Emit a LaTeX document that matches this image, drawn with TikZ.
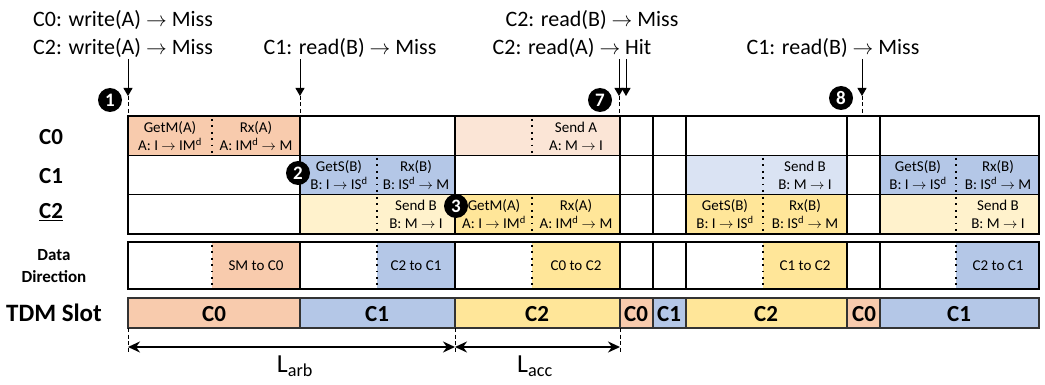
\documentclass[tikz,border=0pt]{standalone}
\usepackage{fontspec}
\setmainfont{Carlito}
\usetikzlibrary{arrows.meta, positioning}

\definecolor{czero}{HTML}{F8CBAD}
\definecolor{czerolt}{HTML}{FBE5D6}
\definecolor{cone}{HTML}{B4C7E7}
\definecolor{conelt}{HTML}{DAE3F3}
\definecolor{ctwo}{HTML}{FFE699}
\definecolor{ctwolt}{HTML}{FFF2CC}

\newcommand{\toarr}{\(\rightarrow\)}

\begin{document}
\begin{tikzpicture}[
    x=1pt, y=-1pt,
    grid/.style={line width=1.6pt},
    tdmgrid/.style={line width=1.3pt, black!80},
    sep/.style={line width=1.6pt, dash pattern=on 1.8pt off 4.6pt},
    evarrow/.style={-{Triangle[length=8pt,width=9pt]}, line width=1pt},
    guide/.style={line width=1pt, dash pattern=on 4pt off 2.5pt},
    span/.style={{Stealth[length=12pt,width=11pt]}-{Stealth[length=12pt,width=11pt]}, line width=2pt},
    marker/.style={circle, fill=black, text=white, inner sep=0pt, minimum size=24pt,
        font=\bfseries\fontsize{19}{19}\selectfont},
    ann/.style={font=\fontsize{22}{24}\selectfont, inner sep=1pt},
    cell/.style={font=\fontsize{15}{18}\selectfont, align=center, inner sep=0pt},
    dir/.style={font=\fontsize{15}{18}\selectfont, inner sep=0pt},
    slot/.style={font=\bfseries\fontsize{23}{24}\selectfont, inner sep=0pt},
    rowlabel/.style={font=\bfseries\fontsize{23}{24}\selectfont, align=center}
]
\useasboundingbox (0,0) rectangle (1045,385);

% Coloured cells
\foreach \xa/\ya/\xb/\yb/\col in {
    128/116/300/155.5/czero, 455/116/620/155.5/czerolt,
    300/155.5/455/194.5/cone, 686/155.5/847/194.5/conelt, 880/155.5/1039/194.5/cone,
    300/194.5/455/234/ctwolt, 455/194.5/620/234/ctwo, 686/194.5/847/234/ctwo, 880/194.5/1039/234/ctwolt,
    212/242/300/289/czero, 377/242/455/289/cone, 532/242/620/289/ctwo,
    763/242/847/289/ctwo, 956/242/1039/289/cone,
    128/298/300/328/czero, 300/298/455/328/cone, 455/298/620/328/ctwo, 620/298/653/328/czero,
    653/298/686/328/cone, 686/298/847/328/ctwo, 847/298/880/328/czero, 880/298/1039/328/cone}
    { \fill[\col] (\xa,\ya) rectangle (\xb,\yb); }

% Core rows and data direction
\draw[grid] (128,116) rectangle (1039,234);
\draw[grid] (128,155.5) -- (1039,155.5);
\draw[grid] (128,194.5) -- (1039,194.5);
\draw[grid] (128,242) rectangle (1039,289);
\foreach \x in {300,455,620,653,686,847,880} {
    \draw[grid] (\x,116) -- (\x,234);
    \draw[grid] (\x,242) -- (\x,289);
}

% TDM slots
\draw[tdmgrid] (128,298) rectangle (1039,328);
\foreach \x in {300,455,620,653,686,847,880}
    \draw[tdmgrid] (\x,298) -- (\x,328);

% Dotted splits inside cells
\foreach \x/\ya/\yb in {
    212/119/154, 532/119/154,
    377/158/193, 763/158/193, 956/158/193,
    377/197/232, 532/197/232, 763/197/232, 956/197/232,
    212/245/287, 377/245/287, 532/245/287, 763/245/287, 956/245/287}
    { \draw[sep] (\x,\ya) -- (\x,\yb); }

% Row labels
\node[rowlabel] (lc0) at (51,137) {C0};
\node[rowlabel] (lc1) at (51,176) {C1};
\node[rowlabel] (lc2) at (51,212) {\underline{C2}};
\node[rowlabel, font=\bfseries\fontsize{17}{22}\selectfont] (ldir) at (54,266) {Data\\Direction};
\node[rowlabel, font=\bfseries\fontsize{25}{26}\selectfont] (lslot) at (54,313) {TDM Slot};

% Cell texts
\node[cell] (g0a) at (170,136) {GetM(A)\\A: I \toarr{} IM\textsuperscript{d}};
\node[cell] (g0b) at (256,136) {Rx(A)\\A: IM\textsuperscript{d} \toarr{} M};
\node[cell] (g0c) at (576,136) {Send A\\A: M \toarr{} I};
\node[cell] (g1a) at (339,175) {GetS(B)\\B: I \toarr{} IS\textsuperscript{d}};
\node[cell] (g1b) at (416,175) {Rx(B)\\B: IS\textsuperscript{d} \toarr{} M};
\node[cell] (g1c) at (805,175) {Send B\\B: M \toarr{} I};
\node[cell] (g1d) at (918,175) {GetS(B)\\B: I \toarr{} IS\textsuperscript{d}};
\node[cell] (g1e) at (998,175) {Rx(B)\\B: IS\textsuperscript{d} \toarr{} M};
\node[cell] (g2a) at (416,214) {Send B\\B: M \toarr{} I};
\node[cell] (g2b) at (494,214) {GetM(A)\\A: I \toarr{} IM\textsuperscript{d}};
\node[cell] (g2c) at (576,214) {Rx(A)\\A: IM\textsuperscript{d} \toarr{} M};
\node[cell] (g2d) at (725,214) {GetS(B)\\B: I \toarr{} IS\textsuperscript{d}};
\node[cell] (g2e) at (805,214) {Rx(B)\\B: IS\textsuperscript{d} \toarr{} M};
\node[cell] (g2f) at (998,214) {Send B\\B: M \toarr{} I};

% Data direction texts
\node[dir] (d1) at (256,266) {SM to C0};
\node[dir] (d2) at (416,266) {C2 to C1};
\node[dir] (d3) at (576,266) {C0 to C2};
\node[dir] (d4) at (805,266) {C1 to C2};
\node[dir] (d5) at (998,266) {C2 to C1};

% Slot owners
\foreach \x/\lbl [count=\i] in {214/C0,377/C1,537/C2,636/C0,669/C1,766/C2,864/C0,959/C1}
    \node[slot] (s\i) at (\x,314) {\lbl};

% Events on top
\node[ann] (e1a) at (123,20) {C0: write(A) \toarr{} Miss};
\node[ann] (e1b) at (123,48) {C2: write(A) \toarr{} Miss};
\node[ann] (e2) at (350,48) {C1: read(B) \toarr{} Miss};
\node[ann] (e3a) at (592,20) {C2: read(B) \toarr{} Miss};
\node[ann] (e3b) at (572,48) {C2: read(A) \toarr{} Hit};
\node[ann] (e4) at (833,48) {C1: read(B) \toarr{} Miss};

\coordinate (t1) at (128,96);
\coordinate (t2) at (300,96);
\coordinate (t3) at (619,96);
\coordinate (t3b) at (626,96);
\coordinate (t4) at (862,96);

\draw[evarrow] (e1b.south -| t1) -- (t1);
\draw[evarrow] (e2.south -| t2) -- (t2);
\draw[evarrow] (e3b.south -| t3) -- (t3);
\draw[evarrow] (e3b.south -| t3b) -- (t3b);
\draw[evarrow] (e4.south -| t4) -- (t4);
\foreach \t in {t1,t2,t3,t4}
    \draw[guide] (\t) -- ++(0,20);

% Step markers
\node[marker] (m1) at (110,100) {1};
\node[marker] (m2) at (298,173) {2};
\node[marker] (m3) at (456,206) {3};
\node[marker] (m7) at (600,100) {7};
\node[marker] (m8) at (841,98) {8};

% Latencies
\coordinate (l0) at (128,347);
\coordinate (l1) at (455,347);
\coordinate (l2) at (620,347);
\foreach \x in {128,455,620}
    \draw[guide] (\x,328) -- (\x,352);
\draw[span] (l0) -- (l1);
\draw[span] (l1) -- (l2);
\node[ann, font=\fontsize{26}{28}\selectfont] (larb) at (295,366) {L\textsubscript{arb}};
\node[ann, font=\fontsize{26}{28}\selectfont] (lacc) at (535,366) {L\textsubscript{acc}};
\end{tikzpicture}
\end{document}
